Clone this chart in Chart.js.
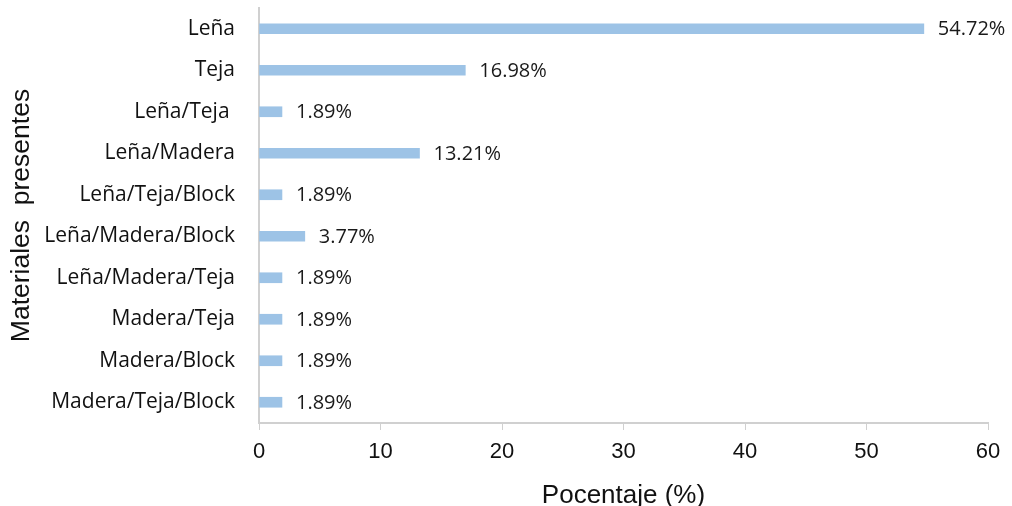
<!DOCTYPE html>
<html>
<head>
<meta charset="utf-8">
<script src="https://cdn.jsdelivr.net/npm/chart.js@4/dist/chart.umd.min.js"></script>
<style>
  html, body { margin: 0; padding: 0; background: #fff; }
  #wrap { width: 1012px; height: 506px; position: relative; }
</style>
</head>
<body>
<div id="wrap"><canvas id="chart"></canvas></div>
<script>
const materiales = ['Leña', 'Teja', 'Leña/Teja ', 'Leña/Madera', 'Leña/Teja/Block', 'Leña/Madera/Block',
    'Leña/Madera/Teja', 'Madera/Teja', 'Madera/Block', 'Madera/Teja/Block'];
const porcentajes = [54.72, 16.98, 1.89, 13.21, 1.89, 3.77, 1.89, 1.89, 1.89, 1.89];
const ejeX = [0, 10, 20, 30, 40, 50, 60];

const labelFont = '"Open Sans", "Noto Sans", sans-serif';
const arialFont = '"Liberation Sans", Arial, sans-serif';

// writes the percentage just past the end of each bar
const valueLabels = {
    id: 'valueLabels',
    afterDatasetsDraw(chart) {
        const { ctx } = chart;
        const meta = chart.getDatasetMeta(0);
        ctx.save();
        ctx.font = '20px ' + labelFont;
        ctx.fillStyle = '#1a1a1a';
        ctx.textBaseline = 'middle';
        meta.data.forEach((bar, i) => {
            ctx.fillText(porcentajes[i].toFixed(2) + '%', bar.x + 14, bar.y + 1);
        });
        ctx.restore();
    }
};

new Chart(document.getElementById('chart'), {
    type: 'bar',
    data: {
        labels: materiales,
        datasets: [{
            data: porcentajes,
            backgroundColor: '#9dc3e6',
            barThickness: 10
        }]
    },
    plugins: [valueLabels],
    options: {
        indexAxis: 'y',
        responsive: true,
        maintainAspectRatio: false,
        animation: false,
        layout: { padding: { top: 8, right: 24, bottom: 0, left: 0 } },
        plugins: { legend: { display: false }, tooltip: { enabled: false } },
        scales: {
            x: {
                min: 0,
                max: 60,
                afterBuildTicks: s => { s.ticks = ejeX.map(v => ({ value: v })); },
                grid: { drawOnChartArea: false, color: '#d0d0d0', tickLength: 7 },
                border: { color: '#d0d0d0', width: 2 },
                ticks: { color: '#111', font: { family: arialFont, size: 22 }, padding: 9 },
                title: { display: true, text: 'Pocentaje (%)', color: '#111',
                    font: { family: arialFont, size: 26, lineHeight: 0.8 }, padding: 0 },
                afterFit: s => { s.height = 83; }
            },
            y: {
                grid: { display: false },
                border: { color: '#d0d0d0', width: 2 },
                ticks: { color: '#111', font: { family: labelFont, size: 21 }, padding: 16 },
                title: { display: true, text: 'Materiales  presentes', color: '#111',
                    font: { family: arialFont, size: 26.5 }, padding: { top: 6 } },
                afterFit: s => { s.width = 259; s.paddingTop = 0; s.paddingBottom = 0; }
            }
        }
    }
});
</script>
</body>
</html>
